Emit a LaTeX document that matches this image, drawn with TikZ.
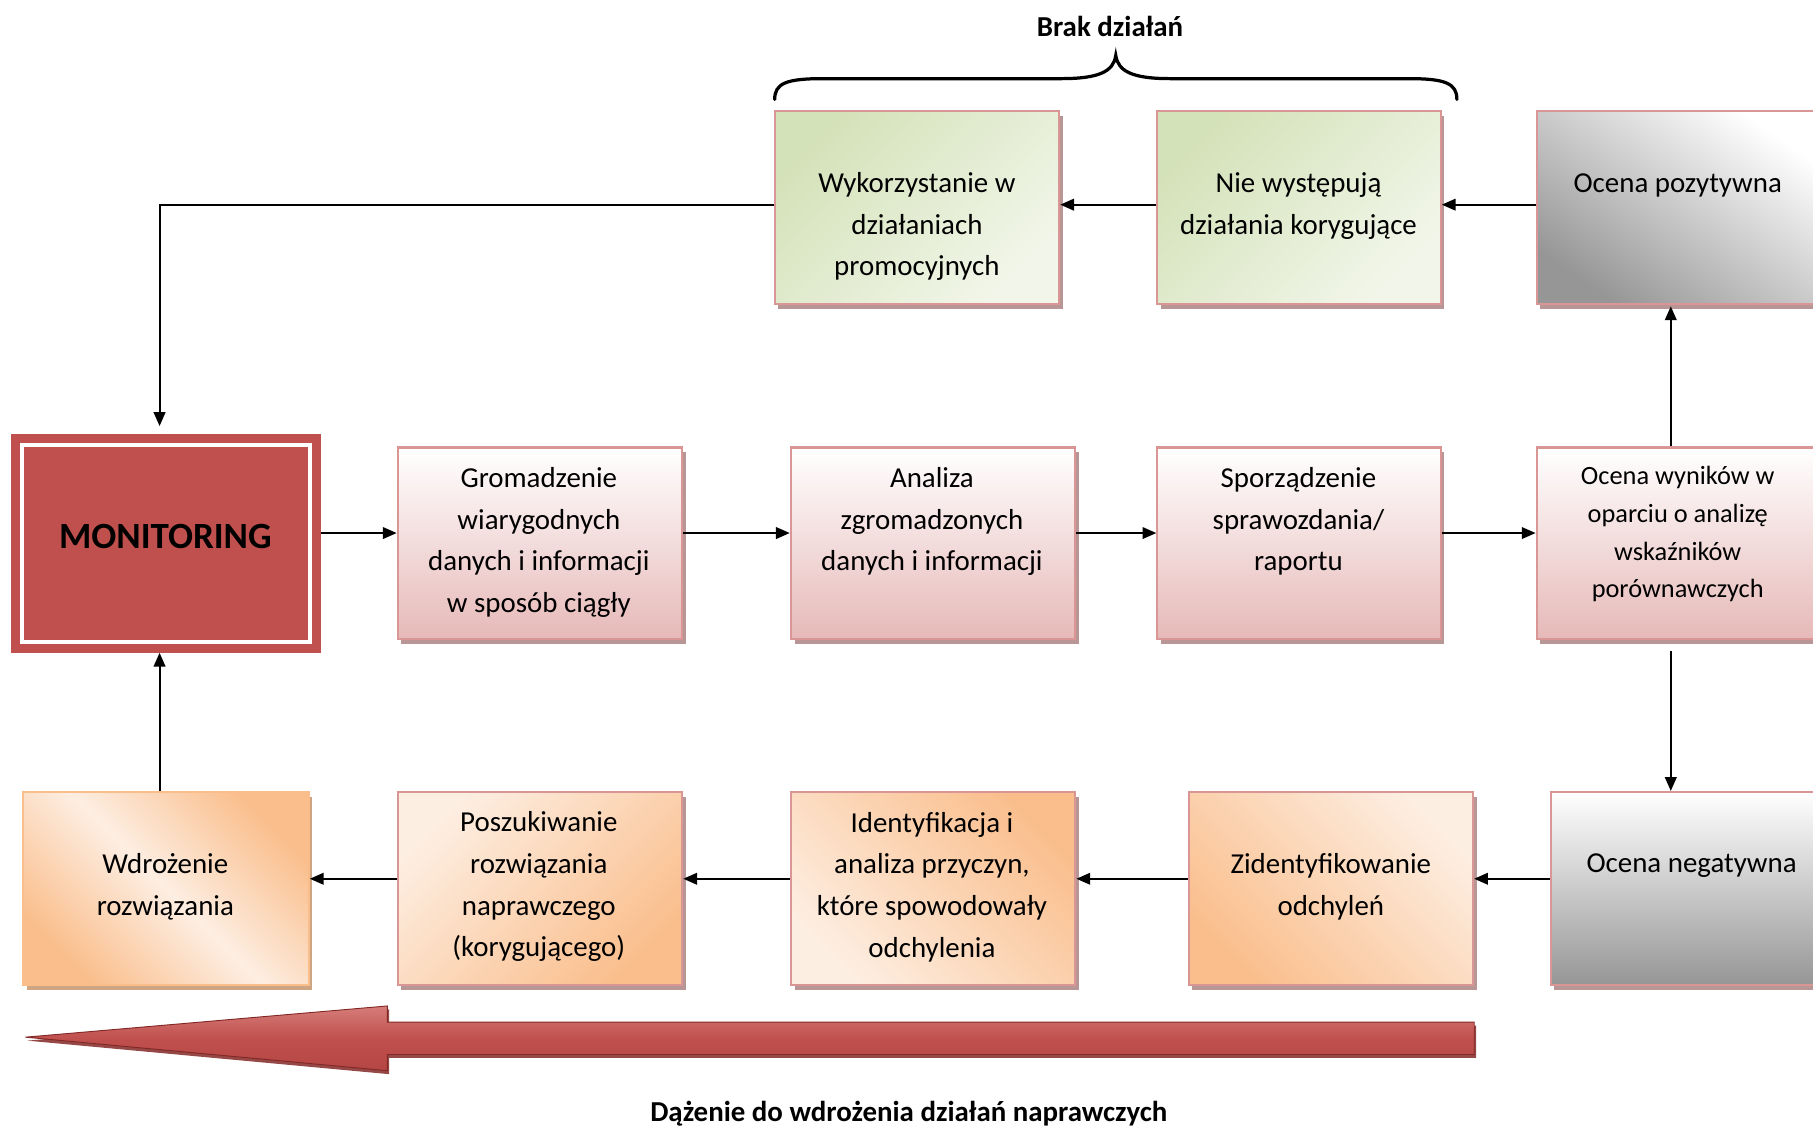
\documentclass[tikz,border=0pt]{standalone}
\usepackage{fontspec}
\setmainfont{Carlito}
\usetikzlibrary{arrows.meta,shadows,fit}
\definecolor{pinkb}{RGB}{217,150,148}
\definecolor{pinkf}{RGB}{230,185,184}
\definecolor{shd}{RGB}{185,150,150}
\definecolor{shdor}{RGB}{205,165,130}
\definecolor{greenf}{RGB}{212,226,185}
\definecolor{greenl}{RGB}{242,246,234}
\definecolor{orf}{RGB}{250,190,140}
\definecolor{orl}{RGB}{253,238,226}
\definecolor{grayf}{RGB}{150,150,150}
\definecolor{monred}{RGB}{192,80,77}
\definecolor{redlight}{RGB}{214,125,122}
\definecolor{redmid}{RGB}{180,70,67}
\definecolor{reddark}{RGB}{130,40,38}
\begin{document}
\begin{tikzpicture}[x=0.5pt,y=-0.5pt,
  boxbase/.style={draw=pinkb, line width=0.9pt, inner sep=0pt,
    drop shadow={shadow xshift=1.6pt,shadow yshift=-2pt,fill=shd,opacity=1}},
  pinkbox/.style={boxbase, top color=white, bottom color=pinkf},
  greenbox/.style={boxbase, top color=greenf, bottom color=greenl, shading angle=45},
  orbox/.style={boxbase, top color=orl, bottom color=orf},
  graybox/.style={boxbase, top color=white, bottom color=grayf},
  txt/.style={font=\fontsize{12.5}{18}\selectfont, align=center, inner sep=0pt},
  txts/.style={font=\fontsize{11.4}{16.3}\selectfont, align=center, inner sep=0pt},
  capt/.style={font=\fontsize{12.5}{15}\selectfont\bfseries, inner sep=0pt},
  arr/.style={draw=black, line width=0.9pt, -{Triangle[length=6pt,width=5pt]}}
]
\useasboundingbox (0,0) rectangle (1568,976);
\clip (0,0) rectangle (1568,976);

% helper coordinates
\coordinate (ty) at (0,177);
\coordinate (my) at (0,461);
\coordinate (by) at (0,760);
\coordinate (mx) at (138,0);
\coordinate (vx) at (1445,0);

% top row
\node[greenbox, fit={(670,96) (916,263)}] (wyk) {};
\node[greenbox, fit={(1001,96) (1246,263)}] (nie) {};
\node[graybox, top color=white, bottom color=grayf, shading angle=-35, fit={(1329,96) (1575,263)}] (ocpoz) {};

% middle row
\node[fill=monred, draw=monred, line width=0.5pt, inner sep=0pt, fit={(10,376) (277,564)}] (mon) {};
\draw[white, line width=1.6pt] (19,385) rectangle (268,555);
\node[pinkbox, fit={(344,387) (590,553)}] (grom) {};
\node[pinkbox, fit={(684,387) (930,553)}] (anal) {};
\node[pinkbox, fit={(1001,387) (1246,553)}] (spor) {};
\node[pinkbox, fit={(1329,387) (1575,553)}] (ocwyn) {};

% bottom row
\node[boxbase, draw=orf, drop shadow={shadow xshift=1.6pt,shadow yshift=-2pt,fill=shdor,opacity=1},
      top color=orf, bottom color=orf, middle color=orl, shading angle=-45, fit={(20,685) (267,852)}] (wdr) {};
\node[orbox, shading angle=45, fit={(344,685) (590,852)}] (posz) {};
\node[orbox, shading angle=135, fit={(684,685) (930,852)}] (iden) {};
\node[orbox, shading angle=-45, fit={(1028,685) (1274,852)}] (zid) {};
\node[graybox, fit={(1341,685) (1587,852)}] (ocneg) {};

% texts
\node[txt] (t-wyk) at (793,196) {Wykorzystanie w\\działaniach\\promocyjnych};
\node[txt] (t-nie) at (1123,178) {Nie występują\\działania korygujące};
\node[txt] (t-ocpoz) at (1451,160) {Ocena pozytywna};
\node[font=\fontsize{16}{18}\selectfont\bfseries, inner sep=0pt] (t-mon) at (143,464) {MONITORING};
\node[txt] (t-grom) at (466,469) {Gromadzenie\\wiarygodnych\\danych i informacji\\w sposób ciągły};
\node[txt] (t-anal) at (806,451) {Analiza\\zgromadzonych\\danych i informacji};
\node[txt] (t-spor) at (1123,451) {Sporządzenie\\sprawozdania/\\raportu};
\node[txts] (t-ocwyn) at (1451,462) {Ocena wyników w\\oparciu o analizę\\wskaźników\\porównawczych};
\node[txt] (t-wdr) at (143,767) {Wdrożenie\\rozwiązania};
\node[txt] (t-posz) at (466,767) {Poszukiwanie\\rozwiązania\\naprawczego\\(korygującego)};
\node[txt] (t-iden) at (806,767) {Identyfikacja i\\analiza przyczyn,\\które spowodowały\\odchylenia};
\node[txt] (t-zid) at (1151,767) {Zidentyfikowanie\\odchyleń};
\node[txt] (t-ocneg) at (1463,749) {Ocena negatywna};

% connectors top row
\draw[arr] (ocpoz.west |- ty) -- (nie.east |- ty);
\draw[arr] (nie.west |- ty) -- (wyk.east |- ty);
\draw[arr, shorten >=3.5pt] (wyk.west |- ty) -| (mon.north -| mx);

% middle row
\draw[arr] (mon.east |- my) -- (grom.west |- my);
\draw[arr] (grom.east |- my) -- (anal.west |- my);
\draw[arr] (anal.east |- my) -- (spor.west |- my);
\draw[arr] (spor.east |- my) -- (ocwyn.west |- my);
\draw[arr, shorten >=0.5pt] (ocwyn.north -| vx) -- (ocpoz.south -| vx);
\draw[arr, shorten <=4.5pt] (ocwyn.south -| vx) -- (ocneg.north -| vx);

% bottom row
\draw[arr] (ocneg.west |- by) -- (zid.east |- by);
\draw[arr] (zid.west |- by) -- (iden.east |- by);
\draw[arr] (iden.west |- by) -- (posz.east |- by);
\draw[arr] (posz.west |- by) -- (wdr.east |- by);
\draw[arr] (wdr.north -| mx) -- (mon.south -| mx);

% brace
\draw[line width=1.4pt, line cap=round]
  (670,86) .. controls (670,72) and (680,68) .. (712,68)
  -- (918,68) .. controls (950,68) and (963,62) .. (965,48)
  .. controls (967,62) and (980,68) .. (1012,68)
  -- (1218,68) .. controls (1250,68) and (1260,72) .. (1260,86);
\node[capt] (brak) at (960,23) {Brak działań};

% big arrow
\path[draw=reddark, line width=0.4pt, top color=redlight, bottom color=redmid, middle color=monred,
      drop shadow={shadow xshift=0.8pt,shadow yshift=-1.5pt,fill=reddark,opacity=0.85}]
  (1275,884) -- (335,884) -- (335,870) -- (22,897) -- (335,926) -- (335,912) -- (1275,912) -- cycle;
\node[capt] (dazenie) at (786,963) {Dążenie do wdrożenia działań naprawczych};
\end{tikzpicture}
\end{document}
